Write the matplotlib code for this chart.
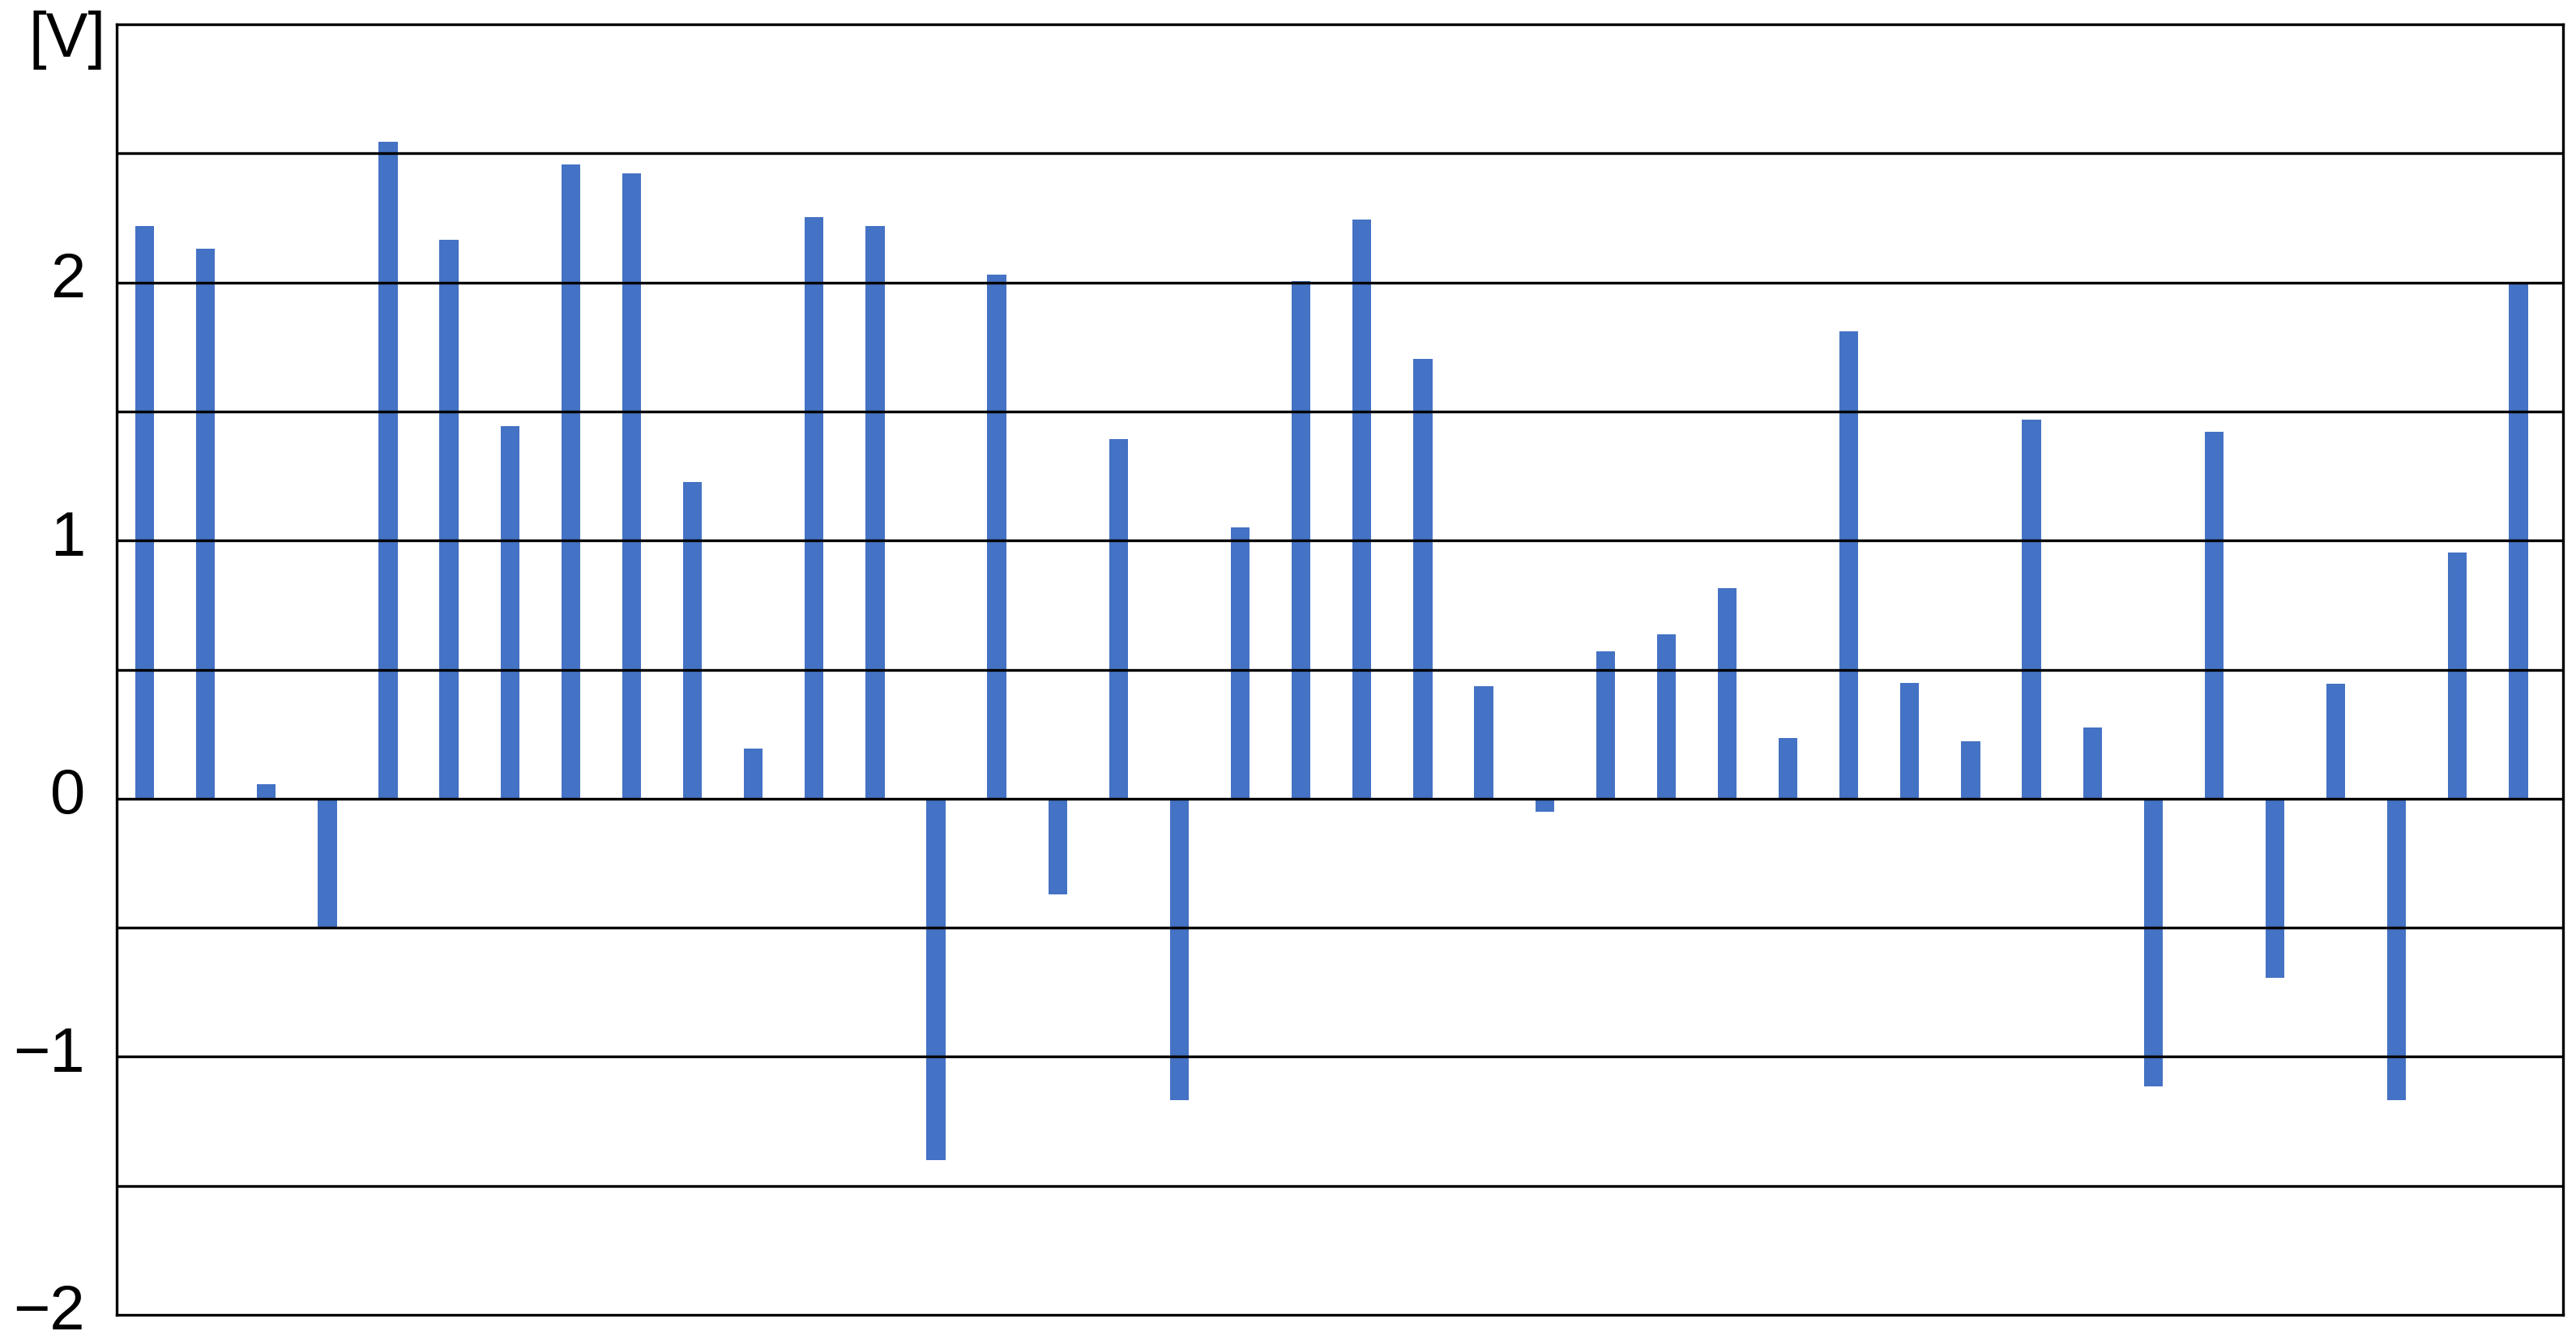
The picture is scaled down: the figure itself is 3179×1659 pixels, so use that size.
import matplotlib.pyplot as plt
import numpy as np
from matplotlib.transforms import blended_transform_factory, ScaledTranslation

plt.rcParams['font.family'] = ['Liberation Sans', 'DejaVu Sans']

# valores (40 barras)
voltages = [2.217, 2.132, 0.057, -0.505, 2.545, 2.166, 1.444, 2.458, 2.424, 1.228,
            0.195, 2.254, 2.217, -1.400, 2.031, -0.370, 1.393, -1.168, 1.052, 2.006,
            2.245, 1.705, 0.437, -0.050, 0.571, 0.637, 0.816, 0.235, 1.809, 0.449,
            0.223, 1.469, 0.276, -1.115, 1.420, -0.694, 0.446, -1.168, 0.955, 2.000]
y_ticks = [-2, -1, 0, 1, 2]
y_tick_labels = ['\u22122', '\u22121', '0', '1', '2']
unit_label = '[V]'

fig = plt.figure(figsize=(31.79, 16.59), dpi=100)
ax = fig.add_axes([0.0453, 0.0217, 0.9496, 0.9602])

x = np.arange(len(voltages))
ax.bar(x, voltages, width=0.31, color='#4472C4', zorder=1)

# linhas de grade a cada 0.5
for g in np.arange(-1.5, 3.0, 0.5):
    ax.axhline(g, color='black', lw=2.4, zorder=2)

ax.set_xlim(-0.46, 39.73)
ax.set_ylim(-2, 3)
ax.set_xticks([])
ax.set_yticks(y_ticks)
ax.set_yticklabels(y_tick_labels, fontsize=56)
ax.tick_params(axis='y', length=0, pad=28)

# rótulos um pouco acima da linha, como no original
shift = ScaledTranslation(0, 0.10, fig.dpi_scale_trans)
for lbl in ax.get_yticklabels():
    lbl.set_transform(lbl.get_transform() + shift)

for s in ax.spines.values():
    s.set_color('black')
    s.set_linewidth(2.4)
    s.set_zorder(3)

trans = blended_transform_factory(ax.transAxes, ax.transData)
ax.text(-0.0045, 2.94, unit_label, transform=trans, ha='right', va='center', fontsize=56)

fig.savefig('out.png', dpi=100)
